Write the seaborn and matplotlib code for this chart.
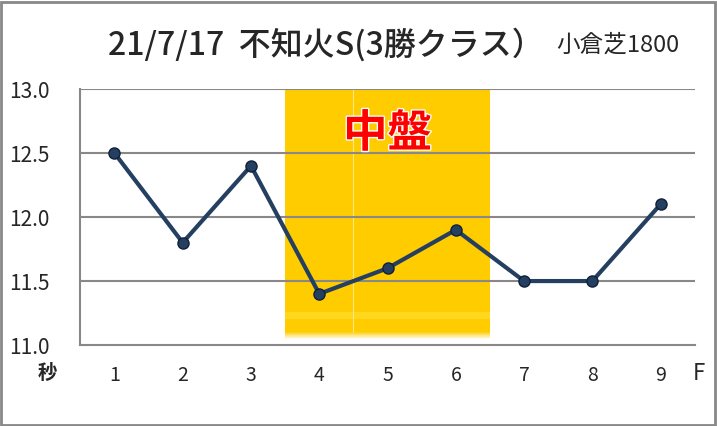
import numpy as np
import pandas as pd
import matplotlib
matplotlib.use("Agg")
import matplotlib.pyplot as plt
import matplotlib.patheffects as pe
import seaborn as sns
from matplotlib.patches import Rectangle

# データ
furlongs = [1, 2, 3, 4, 5, 6, 7, 8, 9]
lap_times = [12.5, 11.8, 12.4, 11.4, 11.6, 11.9, 11.5, 11.5, 12.1]
middle_section = [4, 5, 6]
title_main = "21/7/17  不知火S(3勝クラス）"
title_sub = "小倉芝1800"
yticks = [11.0, 11.5, 12.0, 12.5, 13.0]

sns.set_theme(style="white")
plt.rcParams['font.family'] = ['Noto Sans CJK JP', 'DejaVu Sans']

df = pd.DataFrame({"F": furlongs, "秒": lap_times})

fig = plt.figure(figsize=(7.17, 4.26), dpi=100)
ax = fig.add_axes([0.112, 0.19, 0.857, 0.601])

# 中盤の帯
gold = "#FFCC00"
band_top = yticks[-1]
band_bot = 11.1
sns.barplot(x=[f - 1 for f in middle_section], y=[band_top - band_bot] * 3,
            bottom=band_bot, color=gold, width=1.0, native_scale=True,
            saturation=1, ax=ax, zorder=1, linewidth=0)
# 下端のぼかし
x0 = middle_section[0] - 1.5
x1 = middle_section[-1] - 0.5
n = 12
for i in range(n):
    yb = 11.05 + (band_bot - 11.05) * i / n
    ax.add_patch(Rectangle((x0, yb), x1 - x0, (band_bot - 11.05) / n,
                           color=gold, alpha=(i + 1) / n * 0.9, lw=0, zorder=1))
ax.add_patch(Rectangle((x0, 11.2), x1 - x0, 0.06, color="#FFE033", alpha=0.6, lw=0, zorder=1))
ax.axvline(middle_section[1] - 1.5, ymin=0.05, ymax=1, color="#FFE680", lw=0.8, zorder=1)

ax.text(middle_section[1] - 1, 12.65, "中盤", color="#FF0000", fontsize=32,
        fontweight="bold", ha="center", va="center", zorder=3,
        path_effects=[pe.withStroke(linewidth=2, foreground="white")])

# 折れ線
sns.lineplot(x=[f - 1 for f in df["F"]], y=df["秒"], color="#243F60", lw=3,
             marker="o", markersize=8, markerfacecolor="#243F60",
             markeredgecolor="#10203A", markeredgewidth=1, ax=ax, zorder=4)

ax.set_xlim(-0.5, len(furlongs) - 0.5)
ax.set_ylim(yticks[0], yticks[-1])
ax.set_yticks(yticks)
ax.set_yticklabels([f"{v:.1f}" for v in yticks], fontsize=15)
for v in yticks[1:]:
    ax.axhline(v, color="#888888", lw=1.5, zorder=2)

ax.set_xticks(np.arange(-0.5, len(furlongs), 1))
ax.set_xticklabels([])
ax.tick_params(axis="x", length=6, width=1.5, color="#888888", direction="out")
ax.tick_params(axis="y", length=0, pad=22)
for i, f in enumerate(furlongs):
    ax.text(i, -0.117, str(f), transform=ax.get_xaxis_transform(), ha="center",
            va="center", fontsize=14)
ax.text(-0.054, -0.11, "秒", transform=ax.transAxes, ha="center", va="center",
        fontsize=14, fontweight="bold")
ax.text(0.997, -0.11, "F", transform=ax.transAxes, ha="left", va="center",
        fontsize=16)
ax.set_xlabel("")
ax.set_ylabel("")

for s in ["top", "right"]:
    ax.spines[s].set_visible(False)
ax.spines["left"].set_color("#888888")
ax.spines["left"].set_linewidth(1.5)
ax.spines["bottom"].set_color("#888888")
ax.spines["bottom"].set_linewidth(1.5)

fig.text(0.150, 0.895, title_main, fontsize=23, fontweight="medium",
         ha="left", va="center")
fig.text(0.776, 0.893, title_sub, fontsize=17, ha="left", va="center")

fig.add_artist(Rectangle((0.002, 0.003), 0.995, 0.993, transform=fig.transFigure,
                         fill=False, edgecolor="#888888", lw=2))

fig.savefig("out.png", dpi=100)
